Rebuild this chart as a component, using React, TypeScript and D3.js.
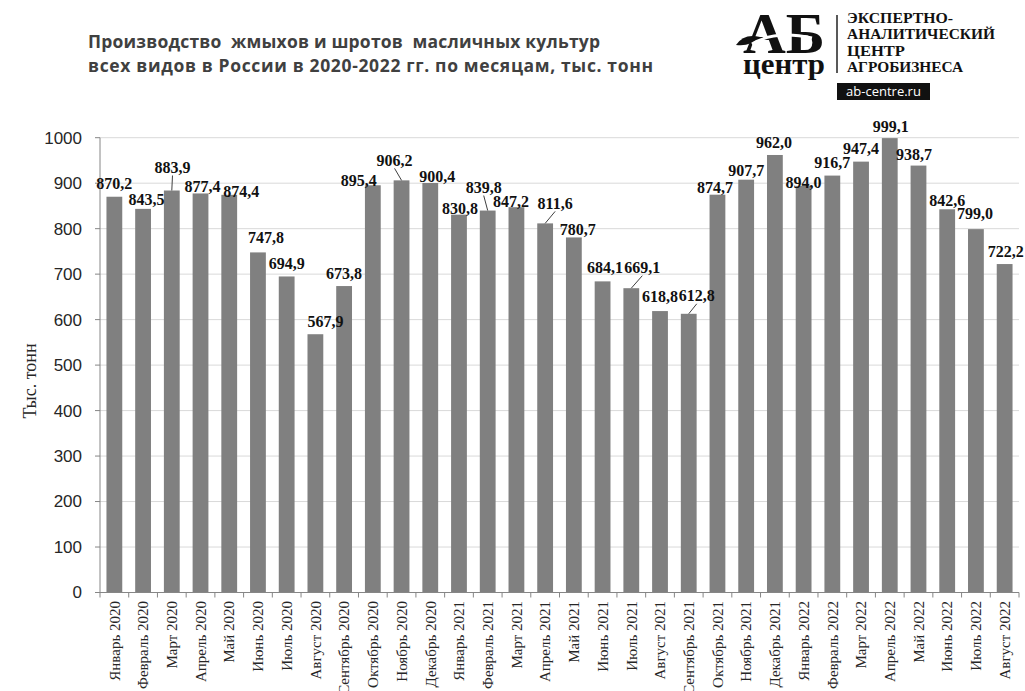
import React from "react";
import * as d3 from "d3";

const months = [
  "Январь 2020", "Февраль 2020", "Март 2020", "Апрель 2020", "Май 2020", "Июнь 2020",
  "Июль 2020", "Август 2020", "Сентябрь 2020", "Октябрь 2020", "Ноябрь 2020", "Декабрь 2020",
  "Январь 2021", "Февраль 2021", "Март 2021", "Апрель 2021", "Май 2021", "Июнь 2021",
  "Июль 2021", "Август 2021", "Сентябрь 2021", "Октябрь 2021", "Ноябрь 2021", "Декабрь 2021",
  "Январь 2022", "Февраль 2022", "Март 2022", "Апрель 2022", "Май 2022", "Июнь 2022",
  "Июль 2022", "Август 2022",
];

const values = [
  870.2, 843.5, 883.9, 877.4, 874.4, 747.8, 694.9, 567.9, 673.8, 895.4, 906.2, 900.4,
  830.8, 839.8, 847.2, 811.6, 780.7, 684.1, 669.1, 618.8, 612.8, 874.7, 907.7, 962.0,
  894.0, 916.7, 947.4, 999.1, 938.7, 842.6, 799.0, 722.2,
];

const yTicks = [0, 100, 200, 300, 400, 500, 600, 700, 800, 900, 1000];

const titleLines = [
  "Производство  жмыхов и шротов  масличных культур",
  "всех видов в России в 2020-2022 гг. по месяцам, тыс. тонн",
];
const yAxisTitle = "Тыс. тонн";
const logoLines = ["ЭКСПЕРТНО-", "АНАЛИТИЧЕСКИЙ", "ЦЕНТР", "АГРОБИЗНЕСА"];
const logoUrl = "ab-centre.ru";

// layout-only settings
const titleWidths = [512, 565];
const logoLineWidths = [106, 148, 58, 116];
const labelDx = [0, 3.5, 0.7, 2, 12, 8, 0, 10, 0, -14, -7, 7, 1, -4, -5.5, 10, 4, 2.5, 11, 0, 8, -2.5, 0, -1, 0, 0, 0, 1, -4.5, 0, -1, 1];
const labelDy = [0, 4, -10, 6, 10, -2, 0, 0, 0, 8, -7, 6, 6.5, -10, 7, -7, 5, -1, -7.5, -2, -5, 6, 3.5, 0, 9, 0, 0, 1, 1.5, 4, -3, 0];
const leaderIdx = [2, 10, 13, 15, 18, 20];

const W = 1025;
const H = 691;
const left = 100;
const right = 1019;
const y0 = 592.5;
const yTop = 137.7;

const fmt = (v: number) => d3.format(".1f")(v).replace(".", ",");

export default function App() {
  const x = d3
    .scaleBand<string>()
    .domain(months)
    .range([left, right])
    .paddingInner(0.45)
    .paddingOuter(0.225);
  const y = d3.scaleLinear().domain([0, 1000]).range([y0, yTop]);
  const step = x.step();
  const serif = "'Liberation Serif', 'Times New Roman', serif";
  const sans = "'Liberation Sans', Arial, sans-serif";

  return (
    <svg
      width={W}
      height={H}
      style={{ position: "absolute", left: 0, top: 0, display: "block", background: "#fff" }}
    >
      <rect x={0} y={0} width={W} height={H} fill="#fff" />
      {/* Title */}
      {titleLines.map((t, i) => (
        <text
          key={i}
          x={88}
          y={48 + i * 24}
          fontFamily="'Open Sans', sans-serif"
          fontWeight={700}
          fontSize={17.5}
          fill="#404040"
          textLength={titleWidths[i]}
          lengthAdjust="spacing"
          style={{ whiteSpace: "pre" }}
        >
          {t}
        </text>
      ))}

      {/* Logo */}
      <g>
        <text x={743} y={53} fontFamily={serif} fontWeight={700} fontSize={58} fill="#111" textLength={82} lengthAdjust="spacingAndGlyphs">
          АБ
        </text>
        <path d="M736,45 Q744,33 760,37 Q750,47 736,45 Z" fill="#111" />
        <path d="M752,44 Q775,30 812,38" stroke="#fff" strokeWidth={3} fill="none" />
        <text x={743} y={74} fontFamily={serif} fontWeight={700} fontSize={30} fill="#111" textLength={82} lengthAdjust="spacingAndGlyphs">
          центр
        </text>
        <line x1={837} x2={837} y1={15} y2={73} stroke="#222" strokeWidth={1.5} />
        {logoLines.map((t, i) => (
          <text
            key={i}
            x={847}
            y={23 + i * 16.3}
            fontFamily={serif}
            fontWeight={700}
            fontSize={14.5}
            fill="#111"
            textLength={logoLineWidths[i]}
            lengthAdjust="spacingAndGlyphs"
          >
            {t}
          </text>
        ))}
        <rect x={837} y={83} width={93} height={17} fill="#111" />
        <text x={883.5} y={96} textAnchor="middle" fontFamily="'Open Sans', sans-serif" fontSize={13} fill="#fff">
          {logoUrl}
        </text>
      </g>

      {/* Gridlines */}
      {yTicks.map((t) => (
        <line key={"g" + t} x1={left} x2={right} y1={y(t)} y2={y(t)} stroke="#d9d9d9" strokeWidth={1} />
      ))}

      {/* Bars */}
      {months.map((m, i) => (
        <rect key={m} x={x(m)} y={y(values[i])} width={x.bandwidth()} height={y0 - y(values[i])} fill="#808080" />
      ))}

      {/* Axes */}
      <line x1={left} x2={left} y1={yTop} y2={y0} stroke="#868686" />
      <line x1={left} x2={right} y1={y0} y2={y0} stroke="#868686" />
      {yTicks.map((t) => (
        <g key={"yt" + t}>
          <line x1={95} x2={left} y1={y(t)} y2={y(t)} stroke="#868686" />
          <text x={82} y={y(t)} dy="0.35em" textAnchor="end" fontFamily={sans} fontSize={17} fill="#262626">
            {t}
          </text>
        </g>
      ))}
      {d3.range(months.length + 1).map((i) => (
        <line key={"xt" + i} x1={left + i * step} x2={left + i * step} y1={y0} y2={y0 + 5} stroke="#868686" />
      ))}
      {months.map((m) => {
        const cx = (x(m) as number) + x.bandwidth() / 2;
        return (
          <text
            key={"xl" + m}
            transform={`translate(${cx},601) rotate(-90)`}
            dy="0.35em"
            textAnchor="end"
            fontFamily={serif}
            fontSize={15}
            fill="#262626"
          >
            {m}
          </text>
        );
      })}

      {/* Y axis title */}
      <text
        transform="translate(30,381) rotate(-90)"
        dy="0.35em"
        textAnchor="middle"
        fontFamily={serif}
        fontSize={18}
        fill="#262626"
      >
        {yAxisTitle}
      </text>

      {/* Data labels */}
      {months.map((m, i) => {
        const cx = (x(m) as number) + x.bandwidth() / 2;
        const top = y(values[i]);
        const lx = cx + labelDx[i];
        const ly = top - 13 + labelDy[i];
        return (
          <g key={"dl" + m}>
            {leaderIdx.includes(i) && (
              <line x1={lx} y1={ly + 8} x2={cx} y2={top} stroke="#404040" strokeWidth={1} />
            )}
            <text x={lx} y={ly} dy="0.35em" textAnchor="middle" fontFamily={serif} fontWeight={700} fontSize={16} fill="#111">
              {fmt(values[i])}
            </text>
          </g>
        );
      })}
    </svg>
  );
}
